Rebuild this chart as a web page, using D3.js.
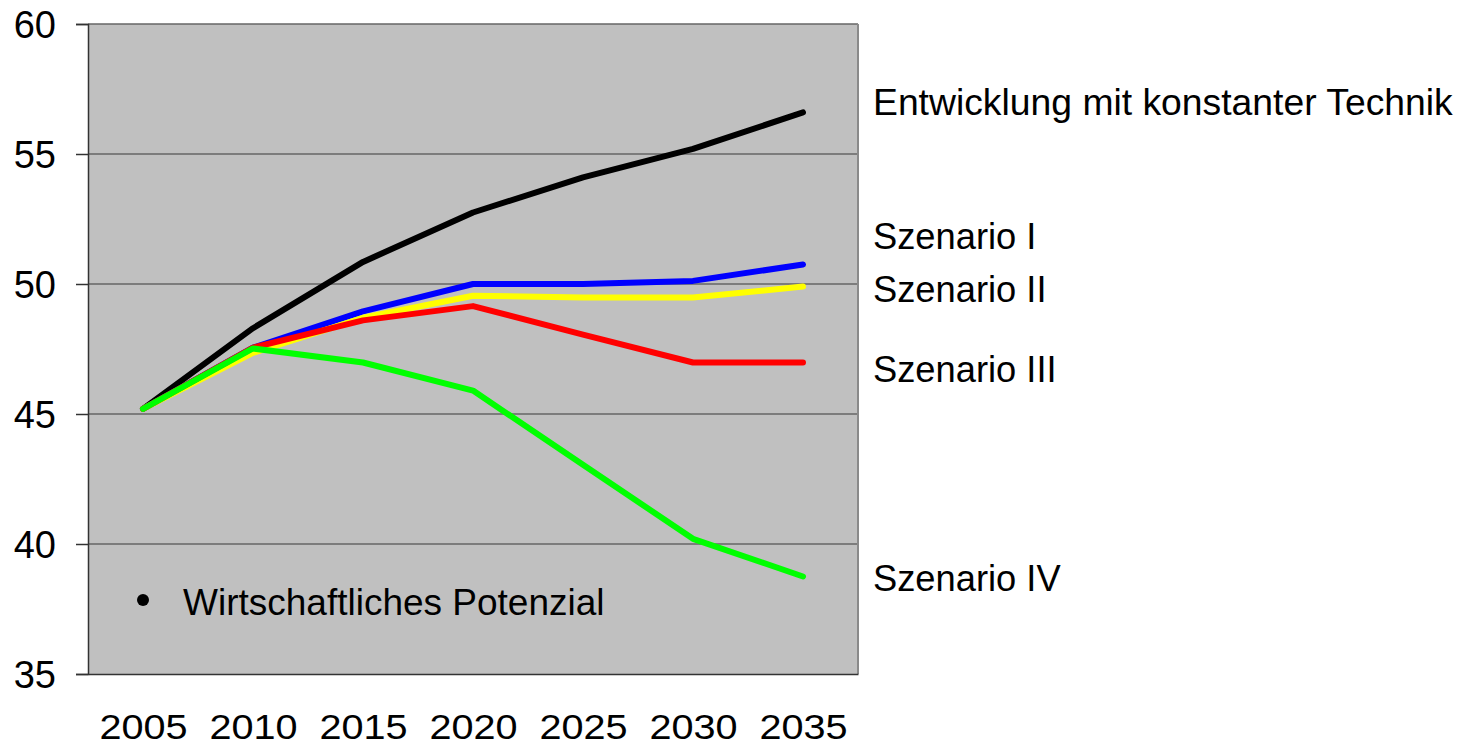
<html lang="de">
<head>
<meta charset="UTF-8">
<title>Szenarien</title>
<style>
  body { margin: 0; background: #fff; }
  text { font-family: "Liberation Sans", Arial, sans-serif; fill: #000; }
</style>
</head>
<body>
<script src="https://d3js.org/d3.v7.min.js"></script>
<div id="chart"></div>
<script>
// data
var years = ["2005", "2010", "2015", "2020", "2025", "2030", "2035"];
var yTicks = [35, 40, 45, 50, 55, 60];

var konstant = [45.2, 48.3, 50.85, 52.75, 54.1, 55.2, 56.6];
var szenario1 = [45.2, 47.55, 48.95, 50.0, 50.0, 50.12, 50.75];
var szenario2 = [45.2, 47.35, 48.7, 49.55, 49.48, 49.48, 49.9];
var szenario3 = [45.2, 47.55, 48.6, 49.15, 48.05, 46.98, 46.98];
var szenario4 = [45.2, 47.52, 46.98, 45.9, 43.05, 40.2, 38.75];

var seriesNames = ["Entwicklung mit konstanter Technik", "Szenario I", "Szenario II", "Szenario III", "Szenario IV"];
var legendText = "Wirtschaftliches Potenzial";

var width = 1472, height = 747;
var margin = {top: 24, right: 614, bottom: 73, left: 88};
var innerW = width - margin.left - margin.right,
    innerH = height - margin.top - margin.bottom;

var svg = d3.select("#chart").append("svg")
    .attr("width", width)
    .attr("height", height);

var g = svg.append("g")
    .attr("transform", "translate(" + margin.left + "," + margin.top + ")");

var x = d3.scalePoint().domain(years).range([0, innerW]).padding(0.5);
var y = d3.scaleLinear().domain([35, 60]).range([innerH, 0]);

// plot background
g.append("rect")
    .attr("width", innerW)
    .attr("height", innerH)
    .attr("fill", "#c0c0c0");

// gridlines
g.selectAll(".grid")
  .data(yTicks.slice(1))
  .enter().append("line")
    .attr("x1", 0).attr("x2", innerW)
    .attr("y1", function(d) { return y(d); })
    .attr("y2", function(d) { return y(d); })
    .attr("stroke", "#666")
    .attr("stroke-width", 1.5);

// right border
g.append("line")
    .attr("x1", innerW).attr("x2", innerW)
    .attr("y1", 0).attr("y2", innerH)
    .attr("stroke", "#8a8a8a").attr("stroke-width", 2);

// y axis
var yAxis = g.append("g")
    .call(d3.axisLeft(y).tickValues(yTicks).tickSize(12).tickPadding(20));
yAxis.select(".domain").attr("stroke", "#333").attr("stroke-width", 1.5);
yAxis.selectAll(".tick line").attr("stroke", "#333").attr("stroke-width", 1.5);
yAxis.selectAll("text").style("font-size", "38px").attr("dy", "0.36em");

// x axis (labels a little wider than normal in the original)
var xAxis = g.append("g")
    .attr("transform", "translate(0," + innerH + ")")
    .call(d3.axisBottom(x).tickSize(0).tickPadding(39));
xAxis.select(".domain").attr("stroke", "#333").attr("stroke-width", 1.5);
xAxis.selectAll("text")
    .style("font-size", "36px")
    .attr("transform", "scale(1.1,1)");

// lines
var allSeries = [
  {values: konstant, color: "#000000"},
  {values: szenario1, color: "#0000ff"},
  {values: szenario2, color: "#ffff00"},
  {values: szenario3, color: "#ff0000"},
  {values: szenario4, color: "#00ff00"}
];

var line = d3.line()
    .x(function(d, i) { return x(years[i]); })
    .y(function(d) { return y(d); });

g.selectAll(".series")
  .data(allSeries)
  .enter().append("path")
    .attr("d", function(d) { return line(d.values); })
    .attr("fill", "none")
    .attr("stroke", function(d) { return d.color; })
    .attr("stroke-width", 6)
    .attr("stroke-linecap", "round")
    .attr("stroke-linejoin", "round");

// series labels on the right (vertical spot in data units)
var labelY = [57.0, 51.85, 49.8, 46.75, 38.7];
g.selectAll(".lbl")
  .data(seriesNames)
  .enter().append("text")
    .attr("x", innerW + 15)
    .attr("y", function(d, i) { return y(labelY[i]); })
    .attr("dy", "0.36em")
    .style("font-size", function(d, i) { return i === 0 ? "37.3px" : "36.3px"; })
    .text(function(d) { return d; });

// note inside plot
g.append("circle")
    .attr("cx", x("2005"))
    .attr("cy", y(37.85))
    .attr("r", 6)
    .attr("fill", "#000");
g.append("text")
    .attr("x", x("2005") + 40)
    .attr("y", y(37.8))
    .attr("dy", "0.36em")
    .style("font-size", "37px")
    .text(legendText);
</script>
</body>
</html>
